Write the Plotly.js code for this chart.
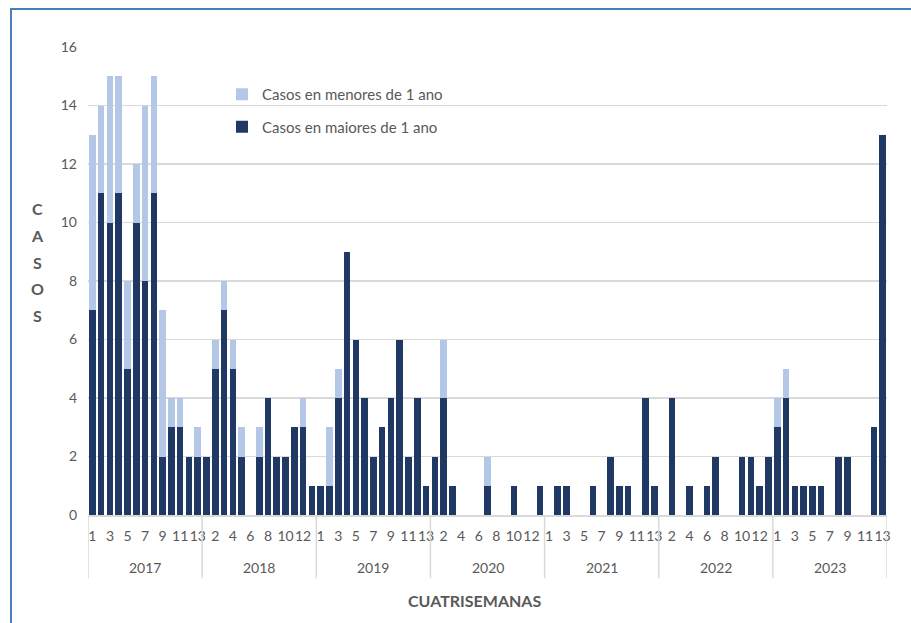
<!DOCTYPE html>
<html>
<head>
<meta charset="utf-8">
<script src="https://cdn.plot.ly/plotly-3.0.1.min.js"></script>
<style>
  html, body { margin: 0; padding: 0; background: #ffffff; }
  #wrap { position: relative; width: 911px; height: 623px; overflow: hidden; }
  #chart { position: absolute; left: 0; top: 0; width: 911px; height: 623px; }
  #frame { position: absolute; left: 10px; top: 8px; width: 960px; height: 700px;
           border-left: 2px solid #4A7EBB; border-top: 2px solid #4A7EBB; pointer-events: none; }
</style>
</head>
<body>
<div id="wrap">
  <div id="chart"></div>
  <div id="frame"></div>
</div>
<script>
// ---- data ----
const years = ['2017', '2018', '2019', '2020', '2021', '2022', '2023'];
const periods = [1, 2, 3, 4, 5, 6, 7, 8, 9, 10, 11, 12, 13];

const maiores2017 = [7, 11, 10, 11, 5, 10, 8, 11, 2, 3, 3, 2, 2];
const maiores2018 = [2, 5, 7, 5, 2, 0, 2, 4, 2, 2, 3, 3, 1];
const maiores2019 = [1, 1, 4, 9, 6, 4, 2, 3, 4, 6, 2, 4, 1];
const maiores2020 = [2, 4, 1, 0, 0, 0, 1, 0, 0, 1, 0, 0, 1];
const maiores2021 = [0, 1, 1, 0, 0, 1, 0, 2, 1, 1, 0, 4, 1];
const maiores2022 = [0, 4, 0, 1, 0, 1, 2, 0, 0, 2, 2, 1, 2];
const maiores2023 = [3, 4, 1, 1, 1, 1, 0, 2, 2, 0, 0, 3, 13];

const menores2017 = [6, 3, 5, 4, 3, 2, 6, 4, 5, 1, 1, 0, 1];
const menores2018 = [0, 1, 1, 1, 1, 0, 1, 0, 0, 0, 0, 1, 0];
const menores2019 = [0, 2, 1, 0, 0, 0, 0, 0, 0, 0, 0, 0, 0];
const menores2020 = [0, 2, 0, 0, 0, 0, 1, 0, 0, 0, 0, 0, 0];
const menores2021 = [0, 0, 0, 0, 0, 0, 0, 0, 0, 0, 0, 0, 0];
const menores2022 = [0, 0, 0, 0, 0, 0, 0, 0, 0, 0, 0, 0, 0];
const menores2023 = [1, 1, 0, 0, 0, 0, 0, 0, 0, 0, 0, 0, 0];

const seriesMaiores = 'Casos en maiores de 1 ano';
const seriesMenores = 'Casos en menores de 1 ano';
const yTitleLetters = ['C', 'A', 'S', 'O', 'S'];
const xTitle = 'CUATRISEMANAS';

// ---- build ----
const maiores = [].concat(maiores2017, maiores2018, maiores2019, maiores2020, maiores2021, maiores2022, maiores2023);
const menores = [].concat(menores2017, menores2018, menores2019, menores2020, menores2021, menores2022, menores2023);
const n = years.length * periods.length;
const xs = [];
const labels = [];
years.forEach(function (y) { periods.forEach(function (p) { xs.push(xs.length); labels.push(String(p)); }); });

const tickvals = [], ticktext = [];
for (let i = 0; i < n; i += 2) { tickvals.push(i); ticktext.push(labels[i]); }

const fontFam = 'Lato, "Open Sans", sans-serif';
const grey = '#595959';

const traces = [
  { type: 'bar', x: xs, y: maiores, name: seriesMaiores, legendgroup: 'b', legendrank: 2,
    marker: { color: '#203864' }, hoverinfo: 'skip' },
  { type: 'bar', x: xs, y: menores, name: seriesMenores, legendgroup: 'a', legendrank: 1,
    marker: { color: '#B4C7E7' }, hoverinfo: 'skip' }
];

const shapes = [];
const annotations = [];
const np = periods.length;
for (let k = 0; k <= years.length; k++) {
  shapes.push({ type: 'line', xref: 'x', yref: 'paper', x0: k * np - 0.5, x1: k * np - 0.5,
    y0: 0, y1: -0.135, line: { color: '#D9D9D9', width: 1.5 } });
}
years.forEach(function (y, k) {
  annotations.push({ xref: 'x', yref: 'paper', x: k * np + (np - 1) / 2, y: -0.113,
    text: y, showarrow: false, xanchor: 'center', yanchor: 'middle',
    font: { family: fontFam, size: 14, color: grey } });
});
annotations.push({ xref: 'paper', yref: 'paper', x: (474 - 88) / 799, y: (515 - 600) / 468,
  text: '<b>' + xTitle + '</b>', showarrow: false, xanchor: 'center', yanchor: 'middle',
  font: { family: fontFam, size: 16, color: grey } });
const letterY = [208, 235, 262, 288, 315];
yTitleLetters.forEach(function (ch, i) {
  annotations.push({ xref: 'paper', yref: 'paper', x: (37 - 88) / 799, y: (515 - letterY[i]) / 468,
    text: '<b>' + ch + '</b>', showarrow: false, xanchor: 'center', yanchor: 'middle',
    font: { family: fontFam, size: 16, color: grey } });
});

const layout = {
  width: 911, height: 623,
  margin: { l: 88, r: 24, t: 47, b: 108 },
  paper_bgcolor: '#ffffff', plot_bgcolor: '#ffffff',
  barmode: 'stack', bargap: 0.25,
  showlegend: true,
  legend: { x: (222 - 88) / 799, y: (515 - 78) / 468, xanchor: 'left', yanchor: 'top',
    traceorder: 'grouped', tracegroupgap: 10, bgcolor: 'rgba(0,0,0,0)',
    font: { family: fontFam, size: 15, color: grey } },
  xaxis: { range: [-0.5, n - 0.5], tickmode: 'array', tickvals: tickvals, ticktext: ticktext,
    showgrid: false, zeroline: false, showline: true, linecolor: '#D9D9D9', linewidth: 1.5,
    ticks: '', tickangle: 0, ticklabelstandoff: 8,
    tickfont: { family: fontFam, size: 14, color: grey }, fixedrange: true },
  yaxis: { range: [0, 16], dtick: 2, showgrid: true, gridcolor: '#D9D9D9', gridwidth: 1.5,
    zeroline: false, showline: false, ticks: '', ticklabelstandoff: 10,
    tickfont: { family: fontFam, size: 14, color: grey }, fixedrange: true },
  shapes: shapes, annotations: annotations
};

Plotly.newPlot('chart', traces, layout, { displayModeBar: false, staticPlot: true });
</script>
</body>
</html>
